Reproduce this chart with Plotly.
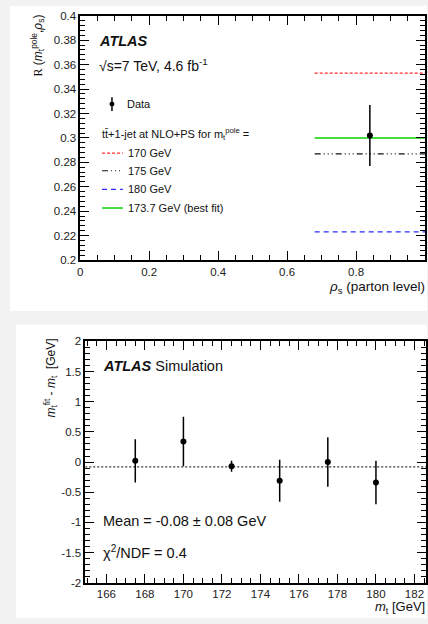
import plotly.graph_objects as go

W, H = 428, 624

# ---------------- top panel: R(m_t^pole, rho_s) ----------------
bin_edges = [0.68, 1.0]
data_x = [0.84]
data_y = [0.302]
data_err = [0.025]

pred_labels = ["170 GeV", "175 GeV", "180 GeV", "173.7 GeV (best fit)"]
pred_values = [0.353, 0.287, 0.223, 0.300]
pred_colors = ["#ff2a2a", "#111111", "#2a2aff", "#44dd44"]
pred_dashes = ["3px,2px", "6px,3px,1px,3px,1px,3px,1px,3px", "5px,4px", "solid"]
pred_widths = [1.2, 1.2, 1.2, 2.0]

# ---------------- bottom panel: calibration ----------------
mt_true = [167.5, 170.0, 172.5, 175.0, 177.5, 180.0]
mt_diff = [0.02, 0.34, -0.07, -0.31, 0.00, -0.34]
mt_err = [0.36, 0.41, 0.09, 0.35, 0.41, 0.36]
mean_offset = -0.08

top_yticks = [0.2, 0.22, 0.24, 0.26, 0.28, 0.3, 0.32, 0.34, 0.36, 0.38, 0.4]
top_yticktext = ["0.2", "0.22", "0.24", "0.26", "0.28", "0.3", "0.32", "0.34", "0.36", "0.38", "0.4"]
top_xticks = [0, 0.2, 0.4, 0.6, 0.8, 1]
top_xticktext = ["0", "0.2", "0.4", "0.6", "0.8", "1"]
bot_yticks = [-2, -1.5, -1, -0.5, 0, 0.5, 1, 1.5, 2]
bot_yticktext = ["-2", "-1.5", "-1", "-0.5", "0", "0.5", "1", "1.5", "2"]
bot_xticks = [166, 168, 170, 172, 174, 176, 178, 180, 182]
bot_xticktext = [str(v) for v in bot_xticks]

FONT = "Liberation Sans, Arial, Helvetica, sans-serif"


def px(x):
    return x / W


def py(y):
    return 1 - y / H


fig = go.Figure()

# prediction lines over the measured bin
for lab, v, c, d, w in zip(pred_labels, pred_values, pred_colors, pred_dashes, pred_widths):
    fig.add_trace(go.Scatter(
        x=bin_edges, y=[v, v], mode="lines", name=lab,
        line=dict(color=c, dash=d, width=w),
        xaxis="x", yaxis="y", showlegend=False, hoverinfo="skip"))

fig.add_trace(go.Scatter(
    x=data_x, y=data_y, mode="markers", name="Data",
    marker=dict(color="black", size=6),
    error_y=dict(type="data", array=data_err, color="black", thickness=1.5, width=0),
    xaxis="x", yaxis="y", showlegend=False))

# mean offset line and calibration points
fig.add_trace(go.Scatter(
    x=[164.9, 182.6], y=[mean_offset, mean_offset], mode="lines",
    line=dict(color="#333333", dash="2px,2px", width=1.2),
    xaxis="x2", yaxis="y2", showlegend=False, hoverinfo="skip"))

fig.add_trace(go.Scatter(
    x=mt_true, y=mt_diff, mode="markers",
    marker=dict(color="black", size=6),
    error_y=dict(type="data", array=mt_err, color="black", thickness=1.5, width=0),
    xaxis="x2", yaxis="y2", showlegend=False))

axis_common = dict(
    showline=True, linecolor="black", linewidth=1.5, mirror="allticks",
    ticks="inside", ticklen=9, tickwidth=1, tickcolor="black",
    showgrid=False, zeroline=False,
    tickfont=dict(family=FONT, size=11.5, color="#222222"),
)

fig.update_layout(
    width=W, height=H,
    margin=dict(l=0, r=0, t=0, b=0),
    paper_bgcolor="#f2f2f2",
    plot_bgcolor="white",
    xaxis=dict(domain=[px(78), px(426)], range=[0, 1], anchor="y",
               tickvals=top_xticks, ticktext=top_xticktext,
               minor=dict(ticks="inside", dtick=0.05, ticklen=5, tickcolor="black"),
               **axis_common),
    yaxis=dict(domain=[py(259), py(10)], range=[0.2, 0.4], anchor="x",
               tickvals=top_yticks, ticktext=top_yticktext,
               minor=dict(ticks="inside", dtick=0.004, ticklen=5, tickcolor="black"),
               **axis_common),
    xaxis2=dict(domain=[px(83), px(427)], range=[164.9, 182.6], anchor="y2",
                tickvals=bot_xticks, ticktext=bot_xticktext,
                minor=dict(ticks="inside", dtick=0.5, tick0=166, ticklen=5, tickcolor="black"),
                **axis_common),
    yaxis2=dict(domain=[py(588), py(342)], range=[-2, 2], anchor="x2",
                tickvals=bot_yticks, ticktext=bot_yticktext,
                minor=dict(ticks="inside", dtick=0.1, ticklen=5, tickcolor="black"),
                **axis_common),
)

# white panels behind each chart
shapes = [
    dict(type="rect", xref="paper", yref="paper", x0=px(7), x1=1, y0=py(311), y1=1,
         fillcolor="white", line=dict(width=0), layer="below"),
    dict(type="rect", xref="paper", yref="paper", x0=px(13), x1=1, y0=0, y1=py(325),
         fillcolor="white", line=dict(width=0), layer="below"),
]

# legend samples for the top panel
leg_y = [150, 168, 187, 206]
for (v, c, d, w), yy in zip(zip(pred_values, pred_colors, pred_dashes, pred_widths), leg_y):
    shapes.append(dict(type="line", xref="paper", yref="paper",
                       x0=px(100), x1=px(121), y0=py(yy), y1=py(yy),
                       line=dict(color=c, dash=d, width=w)))
shapes.append(dict(type="line", xref="paper", yref="paper",
                   x0=px(110), x1=px(110), y0=py(93), y1=py(107),
                   line=dict(color="black", width=1.5)))
shapes.append(dict(type="circle", xref="paper", yref="paper",
                   x0=px(107.5), x1=px(112.5), y0=py(102.5), y1=py(97.5),
                   fillcolor="black", line=dict(color="black", width=0)))
fig.update_layout(shapes=shapes)


def note(x, y, text, size=11.5, xanchor="left", yanchor="middle", angle=0, color="#111111"):
    fig.add_annotation(xref="paper", yref="paper", x=px(x), y=py(y), text=text,
                       showarrow=False, xanchor=xanchor, yanchor=yanchor, textangle=angle,
                       font=dict(family=FONT, size=size, color=color))


# top panel labels
note(95, 36, "<b><i>ATLAS</i></b>", size=14.5)
note(95, 60, "√s=7 TeV, 4.6 fb<sup>-1</sup>", size=14)
note(123, 100, "Data", size=11)
note(98, 130, "tt̄+1-jet at NLO+PS for m<sub>t</sub><sup>pole</sup> =", size=11)
for lab, yy in zip(pred_labels, leg_y):
    note(124, yy, lab, size=11)
note(428, 287, "<i>ρ</i><sub>s</sub> (parton level)", size=13.5, xanchor="right")
note(35, 7, "<span style='font-family:Liberation Serif'>R</span> (<i>m</i><sub>t</sub><sup>pole</sup>,<i>ρ</i><sub>s</sub>)",
     size=12, xanchor="center", yanchor="top", angle=-90)

# bottom panel labels
note(99, 367, "<b><i>ATLAS</i></b> Simulation", size=14.5)
note(99, 525, "Mean = -0.08 ± 0.08 GeV", size=14.5)
note(99, 557, "χ<sup>2</sup>/NDF = 0.4", size=14.5)
note(428, 613, "<i>m</i><sub>t</sub> [GeV]", size=13, xanchor="right")
note(48, 337, "<i>m</i><sub>t</sub><sup>fit</sup> - <i>m</i><sub>t</sub>  [GeV]",
     size=12, xanchor="center", yanchor="top", angle=-90)

fig.write_html("out.html")
